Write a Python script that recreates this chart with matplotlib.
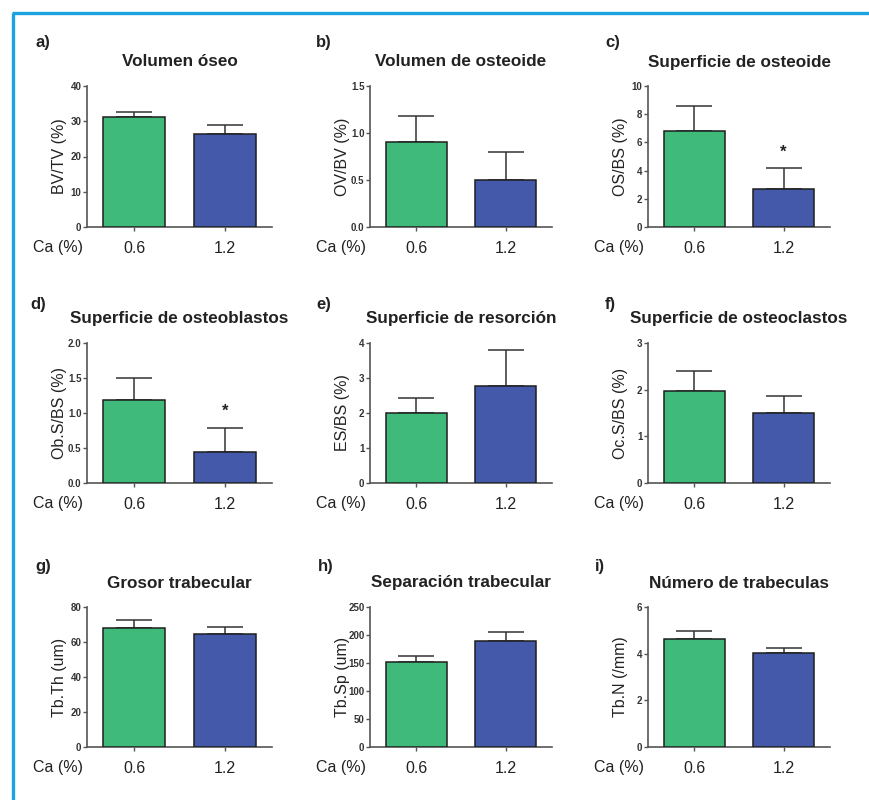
import matplotlib
matplotlib.use("Agg")
import matplotlib.pyplot as plt
from matplotlib.lines import Line2D

plt.rcParams['font.family'] = ['Liberation Sans', 'DejaVu Sans']

# ---------------- data ----------------
groups = ["0.6", "1.2"]
xlabel_txt = "Ca (%)"

panel_letters = ["a)", "b)", "c)", "d)", "e)", "f)", "g)", "h)", "i)"]
titles = ["Volumen óseo", "Volumen de osteoide", "Superficie de osteoide",
          "Superficie de osteoblastos", "Superficie de resorción", "Superficie de osteoclastos",
          "Grosor trabecular", "Separación trabecular", "Número de trabeculas"]
ylabels = ["BV/TV (%)", "OV/BV (%)", "OS/BS (%)",
           "Ob.S/BS (%)", "ES/BS (%)", "Oc.S/BS (%)",
           "Tb.Th (um)", "Tb.Sp (um)", "Tb.N (/mm)"]

means_a = [31.3, 26.4]; err_a = [1.2, 2.4]
means_b = [0.90, 0.50]; err_b = [0.28, 0.30]
means_c = [6.8, 2.7];   err_c = [1.8, 1.5]
means_d = [1.19, 0.45]; err_d = [0.31, 0.34]
means_e = [2.00, 2.77]; err_e = [0.44, 1.03]
means_f = [1.98, 1.50]; err_f = [0.43, 0.36]
means_g = [68.2, 64.8]; err_g = [4.6, 3.6]
means_h = [151, 189];   err_h = [12, 17]
means_i = [4.63, 4.02]; err_i = [0.35, 0.21]

yticks_a = [0, 10, 20, 30, 40]
yticks_b = [0.0, 0.5, 1.0, 1.5]
yticks_c = [0, 2, 4, 6, 8, 10]
yticks_d = [0.0, 0.5, 1.0, 1.5, 2.0]
yticks_e = [0, 1, 2, 3, 4]
yticks_f = [0, 1, 2, 3]
yticks_g = [0, 20, 40, 60, 80]
yticks_h = [0, 50, 100, 150, 200, 250]
yticks_i = [0, 2, 4, 6]

ytick_fmt = ["{:.0f}", "{:.1f}", "{:.0f}", "{:.1f}", "{:.0f}", "{:.0f}", "{:.0f}", "{:.0f}", "{:.0f}"]

# significance star: (group index, y position in data units) or None
stars = [None, None, (1, 5.3), (1, 1.02), None, None, None, None, None]

all_means = [means_a, means_b, means_c, means_d, means_e, means_f, means_g, means_h, means_i]
all_errs = [err_a, err_b, err_c, err_d, err_e, err_f, err_g, err_h, err_i]
all_ticks = [yticks_a, yticks_b, yticks_c, yticks_d, yticks_e, yticks_f, yticks_g, yticks_h, yticks_i]

bar_colors = ["#3fba7b", "#4459aa"]

# ---------------- layout (pixels) ----------------
W, H = 869, 800
fig = plt.figure(figsize=(W / 100, H / 100), dpi=100)
fig.patch.set_facecolor("white")

col_x = [(87, 272), (370, 552), (648, 830)]
row_y = [(86, 227), (343, 483), (607, 747)]
letter_pos = [(35, 43), (316, 43), (605, 43),
              (30, 305), (316, 305), (605, 305),
              (35, 566), (318, 567), (595, 567)]

txt = "#222222"

for k in range(9):
    r, c = divmod(k, 3)
    x0, x1 = col_x[c]
    y0, y1 = row_y[r]
    wpx, hpx = x1 - x0, y1 - y0
    ax = fig.add_axes([x0 / W, 1 - y1 / H, wpx / W, hpx / H])
    xs = list(range(len(groups)))
    ax.bar(xs, all_means[k], width=0.68, color=bar_colors, edgecolor="#1e1e1e",
           linewidth=1.1, zorder=3)
    ax.errorbar(xs, all_means[k], yerr=[[0] * len(xs), all_errs[k]], fmt="none",
                ecolor="#333333", elinewidth=1.1, capsize=13, capthick=1.1, zorder=2)
    ticks = all_ticks[k]
    ax.set_ylim(0, ticks[-1])
    ax.set_xlim(-0.52, 1.52)
    ax.set_yticks(ticks)
    ax.set_yticklabels([ytick_fmt[k].format(t) for t in ticks])
    ax.set_xticks(xs)
    ax.set_xticklabels(groups)
    for s in ["top", "right"]:
        ax.spines[s].set_visible(False)
    for s in ["left", "bottom"]:
        ax.spines[s].set_color("#555555")
        ax.spines[s].set_linewidth(1.2)
    ax.tick_params(axis="y", length=3, width=1, color="#555555", pad=1,
                   labelsize=7, labelcolor="#333333")
    for lab in ax.get_yticklabels():
        lab.set_fontweight("bold")
    ax.tick_params(axis="x", length=3, width=1, color="#555555", pad=7,
                   labelsize=11.5, labelcolor=txt)
    ax.set_ylabel(ylabels[k], fontsize=11.5, color=txt)
    ax.yaxis.set_label_coords(-20 / wpx, 0.5)
    ax.text(0.5, 1 + 24 / hpx, titles[k], transform=ax.transAxes, ha="center",
            va="center", fontsize=12.3, fontweight="bold", color=txt)
    ax.annotate(xlabel_txt, xy=(0, 0), xycoords="axes fraction", xytext=(-3, -14.5),
                textcoords="offset points", ha="right", va="center", fontsize=11.5, color=txt)
    if stars[k] is not None:
        gi, yv = stars[k]
        ax.text(xs[gi], yv, "*", ha="center", va="center", fontsize=12,
                fontweight="bold", color=txt)
    lx, ly = letter_pos[k]
    fig.text(lx / W, 1 - ly / H, panel_letters[k], ha="left", va="center",
             fontsize=12, fontweight="bold", color=txt)

# cyan frame (top and left edges)
frame_c = "#1ba3e0"
fig.add_artist(Line2D([13 / W, 13 / W], [0, 1 - 13 / H], transform=fig.transFigure,
                      color=frame_c, linewidth=2.4, solid_capstyle="butt"))
fig.add_artist(Line2D([12 / W, 1], [1 - 13 / H, 1 - 13 / H], transform=fig.transFigure,
                      color=frame_c, linewidth=2.4, solid_capstyle="butt"))

fig.savefig("out.png", dpi=100)
